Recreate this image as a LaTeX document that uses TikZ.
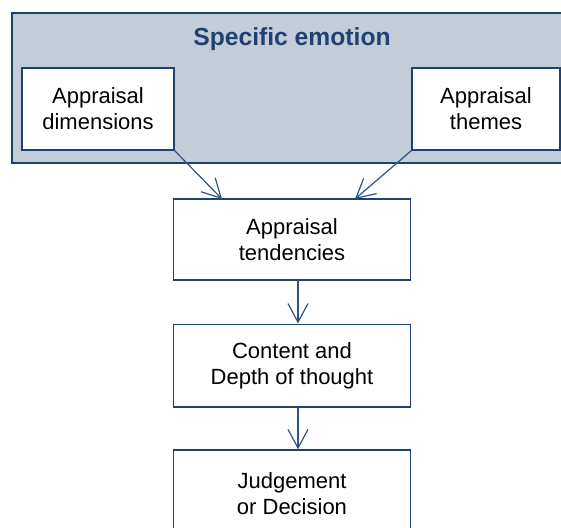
\documentclass[tikz,border=0pt]{standalone}
\usepackage{fontspec}
\setmainfont{Liberation Sans}
\usetikzlibrary{arrows.meta}
\definecolor{navy}{HTML}{1F4273}
\definecolor{linkblue}{HTML}{2E5283}
\definecolor{panelgray}{HTML}{C3CCD7}
\tikzset{
	box/.style = {draw = navy, line width = 1pt, fill = white, align = center,
		font = \fontsize{16.5}{19.5}\selectfont, inner sep = 0pt},
	link/.style = {draw = linkblue, line width = 0.9pt,
		-{Straight Barb[length = 14pt, width = 15pt, line width = 0.9pt]}}
}
\begin{document}
\begin{tikzpicture}[x = 0.75pt, y = -0.75pt]
		\clip (0, 0) rectangle (561, 528);
		% emotion panel, runs off the right edge
		\draw[navy, line width = 1.5pt, fill = panelgray] (12, 13) rectangle (590, 163);
		\node (title) at (292, 39) {\fontsize{18.5}{22}\selectfont\bfseries\color{navy} Specific emotion};
		\node[box, minimum width = 114pt, minimum height = 61.5pt] (dims) at (98, 109) {Appraisal\\dimensions};
		\node[box, minimum width = 111pt, minimum height = 61.5pt] (themes) at (486, 109) {Appraisal\\themes};
		% chain
		\node[box, minimum width = 178pt, minimum height = 60.75pt] (tend) at (292, 239.5) {Appraisal\\tendencies};
		\node[box, minimum width = 178pt, minimum height = 62pt] (depth) at (292, 365.5) {Content and\\Depth of thought};
		\node[box, minimum width = 178pt, minimum height = 66pt] (judge) at (292, 494) {Judgement\\or Decision};
		\coordinate (tendin1) at (222, 199);
		\coordinate (tendin2) at (355, 199);
		\draw[link] (dims.south east) -- (tendin1);
		\draw[link] (themes.south west) -- (tendin2);
		\draw[link] (298, 280) coordinate (tendout) -- (tendout |- depth.north);
		\draw[link] (298, 407) coordinate (depthout) -- (depthout |- judge.north);
	\end{tikzpicture}
\end{document}
